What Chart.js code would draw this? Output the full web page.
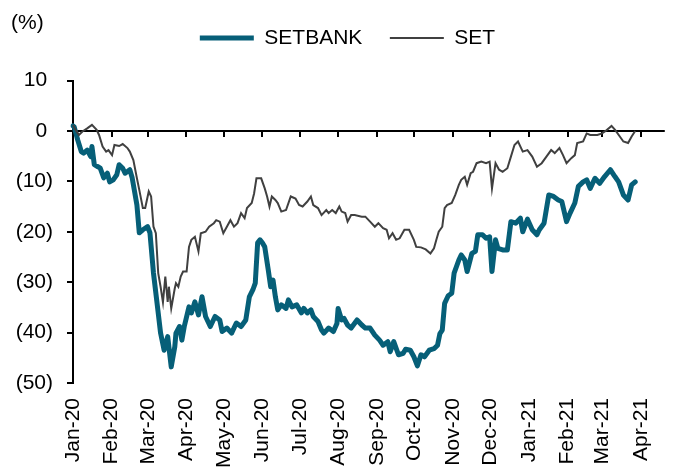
<!DOCTYPE html>
<html>
<head>
<meta charset="utf-8">
<script src="https://cdn.jsdelivr.net/npm/chart.js@4.4.1/dist/chart.umd.min.js"></script>
<style>
  html, body { margin: 0; padding: 0; background: #fff; }
  #wrap { width: 682px; height: 469px; position: relative; }
</style>
</head>
<body>
<div id="wrap"><canvas id="lineChart"></canvas></div>
<script>
// month ticks, in days since 1 Jan 2020
var monthLabels = ['Jan-20', 'Feb-20', 'Mar-20', 'Apr-20', 'May-20', 'Jun-20', 'Jul-20', 'Aug-20',
  'Sep-20', 'Oct-20', 'Nov-20', 'Dec-20', 'Jan-21', 'Feb-21', 'Mar-21', 'Apr-21'];
var monthDay = [0, 31, 60, 91, 121, 152, 182, 213, 244, 274, 305, 335, 366, 397, 425, 456];

// SETBANK, % change since start of 2020
var bankDay = [0, 1, 4, 7, 9, 12, 15, 16, 18, 21, 23, 26, 29, 31, 34, 37, 39, 42, 44, 48, 50, 52, 54, 56, 59,
  63, 65, 68, 72, 74, 77, 80, 83, 86, 87, 90, 92, 94, 98, 100, 103, 106, 109, 112, 116, 120, 124, 126, 130,
  134, 138, 142, 146, 149, 152, 154, 156, 158, 160, 162, 165, 167, 169, 171, 173, 176, 180, 182, 185, 189,
  193, 195, 198, 201, 203, 207, 210, 212, 216, 220, 223, 224, 227, 229, 232, 235, 240, 244, 247, 251, 255,
  259, 262, 266, 268, 271, 275, 279, 281, 285, 288, 291, 294, 297, 301, 305, 308, 310, 312, 314, 317, 320,
  322, 326, 328, 331, 333, 337, 340, 342, 346, 349, 352, 354, 357, 359, 363, 367, 370, 374, 378, 380, 384,
  388, 392, 394, 398, 402, 406, 410, 413, 417, 420, 424, 427, 431, 434, 437, 441, 445, 449, 454, 458, 461,
  465, 469, 472, 475];
var bankPct = [1.0, 0.8, -1.8, -4.1, -4.4, -3.8, -5.1, -3.1, -6.7, -7.1, -7.4, -9.3, -8.4, -10.1, -9.7, -8.7,
  -6.7, -7.4, -8.4, -7.7, -9.3, -12, -14.7, -20.2, -19.6, -19, -20.2, -28.2, -36.1, -40.1, -43.5, -40.8,
  -46.8, -42.8, -40.1, -38.8, -41.5, -38.8, -34.9, -36.1, -33.9, -36.5, -32.9, -36.8, -38.8, -36.8, -37.5,
  -39.8, -39.1, -40.1, -38.1, -38.8, -37.5, -32.9, -31.5, -30.2, -22.2, -21.6, -22.2, -23, -27.6, -30.9,
  -29.6, -32.9, -35.5, -34.5, -35.2, -33.5, -34.9, -34.5, -36.1, -35.2, -36.1, -35.5, -36.8, -37.8, -39.5,
  -40.1, -39.1, -39.8, -38.2, -35.2, -37.5, -37.2, -38.5, -39.1, -37.5, -38.5, -39.1, -39.1, -40.5, -41.5,
  -42.5, -41.8, -43.8, -41.8, -44.4, -44.1, -43.3, -43.5, -44.8, -46.6, -44.4, -44.8, -43.5, -43.2, -42.5,
  -40.2, -39.5, -34.2, -32.7, -32.2, -28.2, -25.6, -24.6, -25.6, -27.9, -24.3, -23.9, -20.6, -20.6, -21.3,
  -21, -27.9, -21.6, -23.3, -23.6, -23.6, -18, -18.3, -17.3, -20, -17.5, -19.6, -20.6, -19.6, -18.3, -12.7,
  -13, -13.7, -14, -18, -16.3, -14.3, -11, -10.1, -9.7, -11.4, -9.4, -10.4, -9.1, -7.7, -9.1, -10.1, -12.7,
  -13.7, -10.7, -10.1];

// SET index, % change since start of 2020
var setDay = [0, 3, 5, 8, 12, 16, 20, 22, 25, 28, 30, 33, 35, 39, 42, 46, 48, 51, 54, 56, 59, 61, 64, 66, 68,
  70, 72, 74, 76, 78, 80, 81, 83, 86, 87, 89, 91, 93, 96, 98, 100, 103, 106, 108, 112, 115, 119, 121, 124,
  127, 130, 133, 136, 139, 142, 145, 147, 151, 153, 155, 159, 162, 164, 166, 168, 171, 173, 176, 180, 184,
  188, 191, 194, 198, 201, 203, 207, 210, 214, 216, 219, 222, 225, 227, 230, 232, 235, 238, 244, 247, 251,
  255, 258, 262, 265, 267, 270, 273, 276, 280, 284, 288, 290, 294, 298, 302, 305, 307, 309, 312, 314, 316,
  320, 323, 326, 328, 331, 333, 336, 338, 341, 345, 349, 352, 354, 357, 360, 363, 367, 370, 373, 376, 380,
  384, 388, 392, 396, 400, 404, 407, 411, 414, 417, 421, 424, 426, 431, 434, 437, 443, 447, 450, 455, 458,
  462, 465, 469, 472, 475];
var setPct = [1.2, -0.1, -0.8, -0.1, 0.5, 1.2, 0.2, -0.8, -3.1, -4.1, -3.8, -4.8, -2.8, -3, -2.6, -3.4, -4.1,
  -5.8, -9.4, -11.7, -15.3, -15.3, -12, -13, -19, -20.3, -28.2, -30.9, -34, -28.9, -33.9, -30.9, -35.2,
  -31.2, -30.2, -30.9, -28.9, -27.9, -27.9, -23, -21.6, -21, -23.9, -20.3, -20, -19, -18.3, -17.7, -18,
  -20.3, -19, -17.7, -19, -18.3, -16.3, -17.3, -15.3, -14.3, -12.4, -9.4, -9.4, -11.4, -13, -15, -13, -13.7,
  -14.3, -16, -15.7, -13, -13.4, -14.7, -15, -14, -13, -14.7, -15.3, -16.7, -15.7, -16.3, -15.7, -16.3, -15,
  -16, -16.3, -18, -16.7, -16.7, -17, -17, -18, -19, -18.3, -19.3, -19.6, -21.3, -20.3, -21.6, -21.3, -19.6,
  -19.6, -21.6, -23, -23.1, -23.5, -24.3, -23.3, -21.6, -20, -19, -15.3, -14.7, -14.3, -12.7, -10.7, -9.7,
  -9.1, -10.7, -8.4, -8.1, -6.4, -6.1, -6.4, -6.1, -11.4, -6.4, -7.7, -8.1, -7.4, -5.1, -2.8, -2.1, -4.1,
  -3.8, -5.1, -7.1, -6.4, -5.1, -3.8, -4.4, -3.4, -4.8, -6.4, -5.4, -4.8, -2.4, -2.1, -0.5, -0.8, -0.8,
  -0.5, 0, 1, 0.2, -1.1, -2.1, -2.4, -1.1, 0];

function toPoints(days, vals) {
  return days.map(function (d, i) { return { x: d, y: vals[i] }; });
}

var FONT = '"Liberation Sans", Arial, sans-serif';
Chart.defaults.font.family = FONT;
Chart.defaults.font.size = 21;
Chart.defaults.color = '#000';

// "(%)" caption and the small month ticks hanging under the zero line
var extras = {
  id: 'extras',
  beforeDatasetsDraw: function (chart) {
    var ctx = chart.ctx, x = chart.scales.x, y = chart.scales.y;
    var y0 = y.getPixelForValue(0);
    ctx.save();
    ctx.strokeStyle = '#000';
    ctx.lineWidth = 2;
    monthDay.forEach(function (d) {
      var px = Math.round(x.getPixelForValue(d));
      ctx.beginPath();
      ctx.moveTo(px, y0);
      ctx.lineTo(px, y0 + 6);
      ctx.stroke();
    });
    ctx.restore();
  },
  afterDraw: function (chart) {
    var ctx = chart.ctx;
    ctx.save();
    ctx.fillStyle = '#000';
    ctx.font = '21px ' + FONT;
    ctx.textBaseline = 'middle';
    ctx.fillText('(%)', 11, 23);
    ctx.restore();
  }
};

var ctx = document.getElementById('lineChart').getContext('2d');
var lineChart = new Chart(ctx, {
  type: 'line',
  data: {
    datasets: [{
      label: 'SETBANK',
      data: toPoints(bankDay, bankPct),
      borderColor: '#065f78',
      backgroundColor: '#065f78',
      borderWidth: 5,
      borderJoinStyle: 'round',
      borderCapStyle: 'round',
      pointRadius: 0,
      order: 1
    }, {
      label: 'SET',
      data: toPoints(setDay, setPct),
      borderColor: '#404040',
      backgroundColor: '#404040',
      borderWidth: 2,
      pointRadius: 0,
      order: 0
    }]
  },
  options: {
    responsive: true,
    maintainAspectRatio: false,
    animation: false,
    layout: { padding: { left: 14, right: 1, top: 0, bottom: 0 } },
    plugins: {
      tooltip: { enabled: false },
      legend: {
        position: 'top',
        labels: {
          usePointStyle: true,
          pointStyle: 'line',
          pointStyleWidth: 54,
          padding: 27.5,
          color: '#000',
          font: { size: 21 },
          sort: function (a, b) { return a.datasetIndex - b.datasetIndex; }
        }
      }
    },
    scales: {
      xSpacer: {
        type: 'linear',
        position: 'top',
        ticks: { display: false },
        grid: { display: false },
        border: { display: false },
        afterFit: function (s) { s.height = 22; }
      },
      x: {
        type: 'linear',
        min: 0,
        max: 475,
        afterBuildTicks: function (s) {
          s.ticks = monthDay.map(function (d) { return { value: d }; });
        },
        afterFit: function (s) { s.height = 86; },
        grid: { display: false, drawTicks: false },
        border: { display: false },
        ticks: {
          autoSkip: false,
          minRotation: 90,
          maxRotation: 90,
          padding: 15,
          callback: function (v, i) { return monthLabels[i]; }
        }
      },
      y: {
        min: -50,
        max: 10,
        afterFit: function (s) { s.width = 59; },
        ticks: {
          stepSize: 10,
          padding: 14,
          callback: function (v) { return v < 0 ? '(' + (-v) + ')' : v + ' '; }
        },
        grid: {
          color: function (c) { return c.tick && c.tick.value === 0 ? '#000' : 'rgba(0,0,0,0)'; },
          tickColor: '#000',
          lineWidth: 2,
          tickLength: 6
        },
        border: { color: '#000', width: 2 }
      }
    }
  },
  plugins: [extras]
});
</script>
</body>
</html>
